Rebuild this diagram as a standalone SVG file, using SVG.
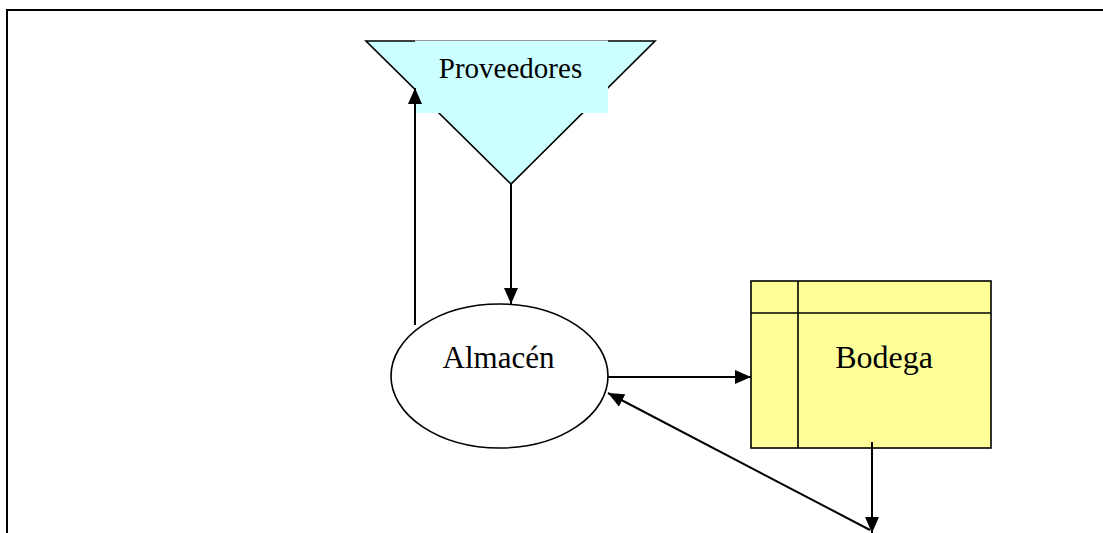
<svg xmlns="http://www.w3.org/2000/svg" width="1103" height="533" viewBox="0 0 1103 533">
  <defs>
    <style>
      .frame { fill: none; stroke: #000; stroke-width: 2; }
      .edge { fill: none; stroke: #000; stroke-width: 2; }
      .shape { stroke: #000; stroke-width: 1.6; }
      .label { fill: #000; text-anchor: middle; }
    </style>
    <marker id="arrow" viewBox="0 0 16 14" refX="16" refY="7" markerWidth="16" markerHeight="14" markerUnits="userSpaceOnUse" orient="auto">
      <path d="M0,0 L16,7 L0,14 Z" fill="#000"/>
    </marker>
  </defs>

  <rect width="1103" height="533" fill="#fff"/>

  <!-- open frame: top and left sides only -->
  <path class="frame" d="M7,533 L7,10 L1103,10"/>

  <!-- suppliers (inverted triangle with label panel) -->
  <g id="proveedores">
    <path class="shape" d="M366,41 L655,41 L511,184 Z" fill="#CCFFFF"/>
    <rect x="415" y="40.5" width="193" height="72.5" fill="#CCFFFF"/>
    <line x1="415" y1="40.5" x2="608" y2="40.5" stroke="#999" stroke-width="1"/>
    <text class="label" x="510.5" y="78" font-family="'Liberation Serif', serif" font-size="29">Proveedores</text>
  </g>

  <!-- warehouse process -->
  <g id="almacen">
    <ellipse class="shape" cx="499.5" cy="376" rx="108.5" ry="72" fill="#fff"/>
    <text class="label" x="498.5" y="368" font-family="'Liberation Serif', serif" font-size="31">Almacén</text>
  </g>

  <!-- storage box -->
  <g id="bodega">
    <rect class="shape" x="751" y="281" width="240" height="167" fill="#FFFF99"/>
    <line class="shape" x1="751" y1="313" x2="991" y2="313"/>
    <line class="shape" x1="798" y1="281" x2="798" y2="448"/>
    <text class="label" x="884" y="368" font-family="'Liberation Serif', serif" font-size="32">Bodega</text>
  </g>

  <g id="connectors">
    <line class="edge" x1="511" y1="184" x2="511" y2="304" marker-end="url(#arrow)"/>
    <line class="edge" x1="415" y1="325" x2="415" y2="88" marker-end="url(#arrow)"/>
    <line class="edge" x1="608" y1="377" x2="751" y2="377" marker-end="url(#arrow)"/>
    <line class="edge" x1="872" y1="442" x2="872" y2="533" marker-end="url(#arrow)"/>
    <line class="edge" x1="870" y1="530" x2="608" y2="393" marker-end="url(#arrow)"/>
  </g>
</svg>
